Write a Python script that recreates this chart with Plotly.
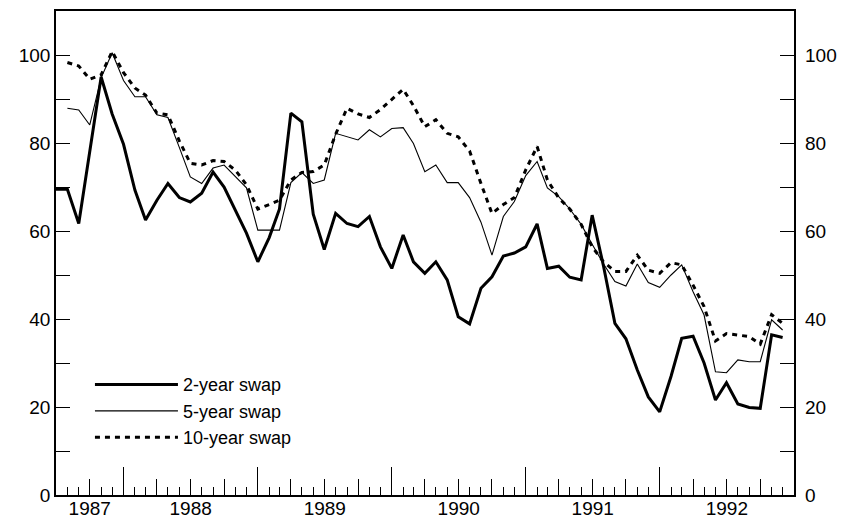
import pandas as pd
import plotly.graph_objects as go

# ---- data (monthly, July 1987 - December 1992) ----
months = pd.date_range("1987-07-01", periods=66, freq="MS")

two_year = [69.5, 69.5, 61.7, 78.0, 95.0, 86.6, 79.7, 69.3, 62.5, 67.0,
            70.8, 67.6, 66.6, 68.6, 73.4, 70.0, 64.8, 59.5, 53.0, 58.5,
            65.0, 86.8, 84.8, 63.8, 55.8, 64.0, 61.7, 61.0, 63.3, 56.4,
            51.5, 59.1, 53.0, 50.4, 53.0, 48.9, 40.5, 38.9, 47.0, 49.6,
            54.3, 55.0, 56.4, 61.6, 51.5, 52.0, 49.5, 48.9, 63.6, 52.0,
            39.0, 35.5, 28.4, 22.3, 18.9, 27.0, 35.6, 36.1, 30.0, 21.6,
            25.5, 20.7, 19.9, 19.7, 36.4, 35.8]

five_year = [None, 87.9, 87.5, 84.1, 94.8, 100.5, 94.2, 90.5, 90.5, 86.4,
             85.8, 79.0, 72.3, 70.8, 74.3, 75.0, 72.3, 69.8, 60.2, 60.2,
             60.2, 71.0, 73.3, 70.8, 71.6, 82.2, 81.4, 80.7, 83.0, 81.4,
             83.3, 83.5, 79.9, 73.5, 75.0, 71.0, 71.0, 67.6, 62.0, 54.5,
             63.3, 66.7, 72.6, 75.8, 69.8, 67.8, 65.0, 61.5, 57.0, 52.5,
             48.5, 47.5, 52.5, 48.3, 47.2, 50.0, 52.3, 46.2, 40.9, 28.0,
             27.8, 30.7, 30.3, 30.3, 39.8, 37.5]

ten_year = [None, 98.3, 97.5, 94.5, 95.5, 100.8, 96.0, 92.5, 90.9, 86.8,
            86.4, 80.5, 75.4, 75.0, 76.0, 75.8, 73.8, 70.5, 65.0, 66.0,
            67.0, 71.6, 73.3, 73.5, 75.0, 82.0, 87.9, 86.6, 85.8, 87.6,
            89.8, 92.2, 88.5, 83.7, 85.3, 82.2, 81.4, 78.2, 70.8, 64.0,
            66.0, 67.6, 73.9, 79.2, 71.6, 67.5, 65.0, 61.5, 56.4, 53.0,
            50.8, 50.8, 54.5, 51.1, 50.4, 52.8, 52.3, 47.7, 42.8, 35.0,
            36.7, 36.4, 36.0, 34.3, 41.0, 39.0]

series_names = ["2-year swap", "5-year swap", "10-year swap"]
year_labels = ["1987", "1988", "1989", "1990", "1991", "1992"]
y_ticks = [0, 20, 40, 60, 80, 100]

# ---- axis helpers ----
x_start = months[0]
x_end = pd.Timestamp("1993-01-01")
label_pos = []
for yl in year_labels:
    a = max(pd.Timestamp(f"{yl}-01-01"), x_start)
    b = min(pd.Timestamp(f"{int(yl) + 1}-01-01"), x_end)
    label_pos.append(a + (b - a) / 2)
quarter_ticks = [m for m in months if m.month in (1, 4, 7, 10)]

FONT = "Liberation Sans, Arial, Helvetica, sans-serif"
TICK_FONT = dict(size=19)

fig = go.Figure()
fig.add_trace(go.Scatter(x=months, y=two_year, mode="lines", name=series_names[0],
                         line=dict(color="black", width=3)))
fig.add_trace(go.Scatter(x=months, y=five_year, mode="lines", name=series_names[1],
                         line=dict(color="black", width=1.1)))
fig.add_trace(go.Scatter(x=months, y=ten_year, mode="lines", name=series_names[2],
                         line=dict(color="black", width=3, dash="5px,5px")))
# helper traces so the overlay axes are drawn
for xa, ya in (("x2", "y"), ("x3", "y"), ("x", "y2")):
    fig.add_trace(go.Scatter(x=[months[0]], y=[None], xaxis=xa, yaxis=ya,
                             showlegend=False, hoverinfo="skip", mode="lines"))

common_x = dict(type="date", range=[x_start, x_end], showgrid=False, zeroline=False,
                automargin=False)

fig.update_layout(
    width=843, height=518,
    margin=dict(l=56, r=49, t=11, b=23, autoexpand=False),
    paper_bgcolor="white", plot_bgcolor="white",
    font=dict(family=FONT, size=19, color="black"),
    showlegend=True,
    legend=dict(x=0.046, y=0.266, xanchor="left", yanchor="top",
                bgcolor="rgba(0,0,0,0)", itemwidth=83, tracegroupgap=0,
                font=dict(size=18)),
    xaxis=dict(**common_x, showline=True, linecolor="black", linewidth=1.5, mirror=True,
               ticks="inside", tickmode="linear", tick0="1988-01-01", dtick="M12",
               ticklen=28, tickwidth=1.3, tickcolor="black", showticklabels=False,
               minor=dict(ticks="inside", dtick="M1", tick0="1987-07-01", ticklen=8,
                          tickwidth=1, tickcolor="black", showgrid=False)),
    xaxis2=dict(**common_x, overlaying="x", anchor="y", side="bottom", showline=False,
                ticks="inside", tickmode="array", tickvals=quarter_ticks, ticklen=16,
                tickwidth=1.2, tickcolor="black", showticklabels=False),
    xaxis3=dict(**common_x, overlaying="x", anchor="y", side="bottom", showline=False,
                ticks="", tickmode="array", tickvals=label_pos, ticktext=year_labels,
                tickfont=TICK_FONT),
    yaxis=dict(range=[0, 110], showgrid=False, zeroline=False, showline=True,
               linecolor="black", linewidth=1.5, mirror=True, automargin=False,
               ticks="inside", tickmode="array", tickvals=y_ticks, ticklen=14,
               tickwidth=1.2, tickcolor="black", tickfont=TICK_FONT,
               minor=dict(ticks="inside", dtick=10, tick0=0, ticklen=14,
                          tickwidth=1.2, tickcolor="black", showgrid=False)),
    yaxis2=dict(range=[0, 110], overlaying="y", side="right", anchor="x",
                showgrid=False, zeroline=False, showline=False, automargin=False,
                ticks="inside", tickmode="array", tickvals=y_ticks, ticklen=14,
                tickwidth=1.2, tickcolor="black", tickfont=TICK_FONT,
                ticklabelstandoff=10,
                minor=dict(ticks="inside", dtick=10, tick0=0, ticklen=14,
                           tickwidth=1.2, tickcolor="black", showgrid=False)),
)

fig.write_html("out.html", config={"displayModeBar": False},
               post_script="document.body.style.margin='0px';")
